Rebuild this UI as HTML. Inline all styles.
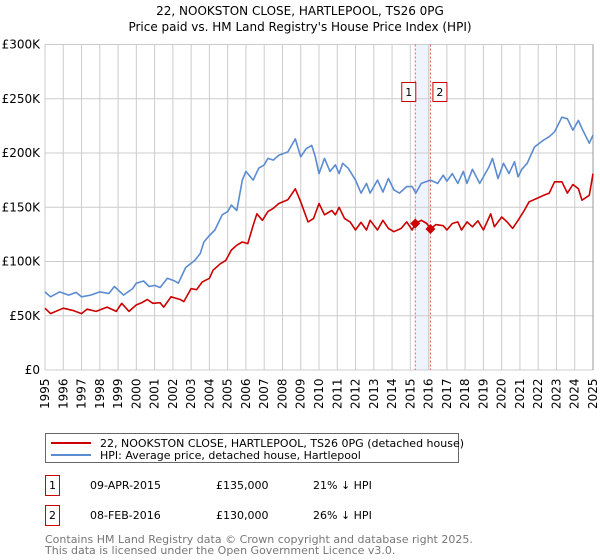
<!DOCTYPE html>
<html><head><meta charset="utf-8"><style>
body{margin:0;background:#fff;font-family:"Liberation Sans","DejaVu Sans",sans-serif;}
#wrap{position:relative;width:600px;height:560px;overflow:hidden;}
svg text{font-family:"DejaVu Sans","Liberation Sans",sans-serif;}
</style></head><body><div id="wrap">
<svg id="chart" width="600" height="560">
<text x="300" y="15" text-anchor="middle" font-size="12">22, NOOKSTON CLOSE, HARTLEPOOL, TS26 0PG</text>
<text x="300" y="31" text-anchor="middle" font-size="12">Price paid vs. HM Land Registry's House Price Index (HPI)</text>
<g id="grid"></g><g id="series"></g><g id="axes"></g>
<rect x="45.5" y="433.5" width="413" height="29" fill="#fff" stroke="#666"/>
<line x1="51" y1="443" x2="91" y2="443" stroke="#cc0000" stroke-width="2"/>
<text x="100" y="447" font-size="11">22, NOOKSTON CLOSE, HARTLEPOOL, TS26 0PG (detached house)</text>
<line x1="51" y1="455" x2="91" y2="455" stroke="#5b8bd0" stroke-width="2"/>
<text x="100" y="459" font-size="11">HPI: Average price, detached house, Hartlepool</text>
<g font-size="11">
<rect x="45.5" y="475.5" width="14" height="20" fill="#fff" stroke="#cc0000"/>
<text x="52.5" y="489" text-anchor="middle">1</text>
<text x="90" y="489">09-APR-2015</text><text x="216" y="489">£135,000</text><text x="313" y="489">21% ↓ HPI</text>
<rect x="45.5" y="505.5" width="14" height="20" fill="#fff" stroke="#cc0000"/>
<text x="52.5" y="519" text-anchor="middle">2</text>
<text x="90" y="519">08-FEB-2016</text><text x="216" y="519">£130,000</text><text x="313" y="519">26% ↓ HPI</text>
</g>
<text x="45" y="543" font-size="11" fill="#777">Contains HM Land Registry data © Crown copyright and database right 2025.</text>
<text x="45" y="554" font-size="11" fill="#777">This data is licensed under the Open Government Licence v3.0.</text>
</svg></div>
<script>
const yTicks=[0,50000,100000,150000,200000,250000,300000];
const yTickLabels=["£0","£50K","£100K","£150K","£200K","£250K","£300K"];
const xYears=[1995,1996,1997,1998,1999,2000,2001,2002,2003,2004,2005,2006,2007,2008,2009,2010,2011,2012,2013,2014,2015,2016,2017,2018,2019,2020,2021,2022,2023,2024,2025];
const hpiDates=[1995.0,1995.3,1995.8,1996.3,1996.7,1997.0,1997.5,1998.0,1998.5,1998.8,1999.3,1999.8,2000.0,2000.4,2000.7,2001.0,2001.3,2001.7,2002.1,2002.3,2002.7,2003.2,2003.5,2003.7,2004.0,2004.3,2004.7,2005.0,2005.2,2005.5,2005.8,2006.0,2006.4,2006.7,2007.0,2007.2,2007.5,2007.8,2008.3,2008.7,2009.0,2009.3,2009.6,2009.8,2010.0,2010.3,2010.6,2010.9,2011.1,2011.3,2011.6,2012.0,2012.3,2012.6,2012.8,2013.2,2013.5,2013.8,2014.1,2014.4,2014.8,2015.1,2015.3,2015.6,2016.1,2016.5,2016.8,2017.0,2017.3,2017.6,2017.9,2018.1,2018.4,2018.8,2019.0,2019.3,2019.5,2019.8,2020.1,2020.4,2020.7,2020.9,2021.1,2021.4,2021.8,2022.3,2022.6,2022.9,2023.3,2023.6,2023.9,2024.2,2024.4,2024.8,2025.0];
const hpiValues=[72,67.5,72,69,71.5,67.5,69,72,70.5,77,69,75,80,82,77,78,76,84.5,82,80,94.5,101,107.5,118,124,129,143,146,152,147,175,183,175,186,189,195,193.5,198,201,213,196.5,204,207,196.5,181,195,183,189,181,190.5,186,175,163,172,163,175,164,176.5,166,163,169,169,163,172,175,172,179.5,174,181,172,183,172,185,172,178,187,195,176.5,190.5,181,192,178,185,190.5,205.5,212,215,219.5,233,231.5,221,230,222.5,209,216.5,242.5].map(v=>v*1000);
const priceDates=[1995.0,1995.3,1996.0,1996.5,1997.0,1997.3,1997.8,1998.4,1998.9,1999.2,1999.6,2000.0,2000.3,2000.6,2000.9,2001.3,2001.5,2001.9,2002.4,2002.6,2003.0,2003.3,2003.6,2004.0,2004.2,2004.6,2004.9,2005.2,2005.5,2005.8,2006.1,2006.4,2006.6,2006.9,2007.2,2007.5,2007.8,2008.3,2008.7,2009.0,2009.4,2009.7,2010.0,2010.3,2010.7,2010.9,2011.1,2011.4,2011.7,2012.0,2012.3,2012.6,2012.8,2013.2,2013.5,2013.8,2014.1,2014.5,2014.8,2015.1,2015.27,2015.6,2015.9,2016.1,2016.4,2016.8,2017.0,2017.3,2017.6,2017.8,2018.1,2018.4,2018.7,2019.0,2019.4,2019.6,2020.0,2020.3,2020.6,2020.9,2021.2,2021.5,2021.9,2022.3,2022.6,2022.9,2023.3,2023.6,2023.9,2024.2,2024.4,2024.8,2025.0];
const priceValues=[57,52,57,55,52,56,54,58,54,61.5,54,60,62,65,61.5,62,58,67.5,65,63,75,74,81,84.5,92,98,101,110.5,115,118,116.5,133.5,144,138,146,149,153.5,157,167,155,136.5,139.5,153.5,143,147,143,150,139.5,136.5,129,136,129,138,129,138,130.5,127.5,130.5,136.5,129,135,138,135,130,134,133,129,135,136.5,129,136.5,132,137.5,129,144,132,141,136.5,130.5,138,146,155,158,161,163,173.5,173.5,163,171,167,156.5,161,181].map(v=>v*1000);
const saleDates=[2015.27,2016.1];
const saleValues=[135000,130000];
const saleLabels=["1","2"];

const L=45,R=593,T=44.5,B=370;
const xS=d=>L+(d-1995)/(2025-1995)*(R-L);
const yS=v=>B-v/300000*(B-T);
const NS="http://www.w3.org/2000/svg";
function mk(tag,attrs,parent){const e=document.createElementNS(NS,tag);for(const k in attrs)e.setAttribute(k,attrs[k]);parent.appendChild(e);return e;}
const grid=document.getElementById('grid'),series=document.getElementById('series'),axes=document.getElementById('axes');
// highlight band
const band=mk('rect',{x:xS(saleDates[0]),y:T,width:xS(saleDates[1])-xS(saleDates[0]),height:B-T,fill:'#eef3fc'},grid);


yTicks.forEach((v,i)=>{
 const ln=mk('line',{x1:L,x2:R,y1:yS(v),y2:yS(v),stroke:'#ccc','stroke-width':1},grid);
 
 
 const t=mk('text',{x:40,y:yS(v)+4,'text-anchor':'end','font-size':12},axes);
 t.textContent=yTickLabels[i];
 
 
});
xYears.forEach(yr=>{
 const ln=mk('line',{x1:xS(yr),x2:xS(yr),y1:T,y2:B,stroke:'#ccc','stroke-width':1},grid);
 
 
 const x=xS(yr)+4,y=409;
 const t=mk('text',{x:x,y:y,'font-size':12,transform:`rotate(-90 ${x} ${y})`},axes);
 t.textContent=yr;
 
 
});
const rb=mk('line',{x1:R,x2:R,y1:T,y2:B,stroke:'#999','stroke-width':1},grid);


saleDates.forEach((d,i)=>{
 const ln=mk('line',{x1:xS(d),x2:xS(d),y1:T,y2:B,stroke:'#e06060','stroke-width':1,'stroke-dasharray':'2,2'},series);
 
 
});
function line(ds,vs,color,name){
 const p=mk('polyline',{points:ds.map((d,i)=>xS(d).toFixed(1)+','+yS(vs[i]).toFixed(1)).join(' '),fill:'none',stroke:color,'stroke-width':1.6,'stroke-linejoin':'round'},series);
 
 
}
line(hpiDates,hpiValues,'#5b8bd0','hpi-line');
line(priceDates,priceValues,'#cc0000','price-paid-line');
saleDates.forEach((d,i)=>{
 const cx=xS(d),cy=yS(saleValues[i]);
 const m=mk('polygon',{points:`${cx},${cy-5} ${cx+5},${cy} ${cx},${cy+5} ${cx-5},${cy}`,fill:'#cc0000'},series);
 
 
 const bx=cx+(i===0?-12:4);
 const r=mk('rect',{x:bx-1.5,y:82.5,width:14,height:19,fill:'#fff',stroke:'#cc0000'},series);
 
 
 const t=mk('text',{x:bx+5.5,y:96,'text-anchor':'middle','font-size':11},series);
 t.textContent=saleLabels[i];
 
 
});
</script></body></html>
